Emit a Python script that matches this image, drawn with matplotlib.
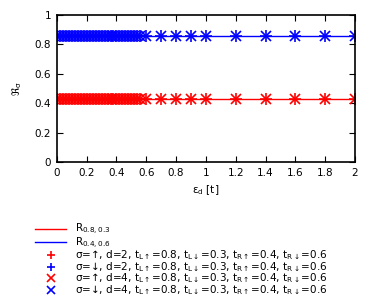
import matplotlib
matplotlib.use('Agg')
import matplotlib.pyplot as plt

plt.rcParams['mathtext.default'] = 'regular'

# sampled detuning values
eps = [0.0, 0.02, 0.04, 0.06, 0.08, 0.1, 0.12, 0.14, 0.16, 0.18, 0.2, 0.22, 0.24,
       0.26, 0.28, 0.3, 0.32, 0.34, 0.36, 0.38, 0.4, 0.42, 0.44, 0.46, 0.48, 0.5,
       0.52, 0.54, 0.56, 0.6, 0.7, 0.8, 0.9, 1.0, 1.2, 1.4, 1.6, 1.8, 2.0]
R_up = [0.43] * len(eps)
R_dn = [0.855] * len(eps)

line_x = [0.0, 2.0]
R_08_03 = [0.43, 0.43]
R_04_06 = [0.855, 0.855]

tail = r', t$_{L\uparrow}$=0.8, t$_{L\downarrow}$=0.3, t$_{R\uparrow}$=0.4, t$_{R\downarrow}$=0.6'
labels = [r'R$_{0.8,0.3}$', r'R$_{0.4,0.6}$',
          'σ=↑, d=2' + tail, 'σ=↓, d=2' + tail,
          'σ=↑, d=4' + tail, 'σ=↓, d=4' + tail]

fig = plt.figure(figsize=(3.74, 2.99), dpi=100)
ax = fig.add_axes([0.152, 0.458, 0.797, 0.493])

ax.plot(line_x, R_08_03, color='red', lw=1, label=labels[0])
ax.plot(line_x, R_04_06, color='blue', lw=1, label=labels[1])
ax.plot(eps, R_up, '+', color='red', ms=8, mew=1.2, ls='none', label=labels[2])
ax.plot(eps, R_dn, '+', color='blue', ms=8, mew=1.2, ls='none', label=labels[3])
ax.plot(eps, R_up, 'x', color='red', ms=6.5, mew=1.2, ls='none', label=labels[4])
ax.plot(eps, R_dn, 'x', color='blue', ms=6.5, mew=1.2, ls='none', label=labels[5])

ax.set_xlim(0, 2)
ax.set_ylim(0, 1)
ax.set_xticks([0, 0.2, 0.4, 0.6, 0.8, 1, 1.2, 1.4, 1.6, 1.8, 2])
ax.set_xticklabels(['0', '0.2', '0.4', '0.6', '0.8', '1', '1.2', '1.4', '1.6', '1.8', '2'])
ax.set_yticks([0, 0.2, 0.4, 0.6, 0.8, 1])
ax.set_yticklabels(['0', '0.2', '0.4', '0.6', '0.8', '1'])
ax.tick_params(direction='in', top=True, right=True, labelsize=7.5, length=4, pad=4)
for s in ax.spines.values():
    s.set_linewidth(1.2)
ax.set_xlabel(r'$\epsilon_d$ [t]', fontsize=7.5, labelpad=4)
ax.set_ylabel(r'$\Re_\sigma$', fontsize=7.5, labelpad=8)

fig.legend(loc='upper left', bbox_to_anchor=(0.08, 0.275), frameon=False,
           fontsize=7.5, handlelength=3.0, labelspacing=-0.15, borderpad=0,
           handletextpad=0.8, handleheight=0.5, markerscale=0.8)

fig.savefig('out.png', dpi=100)
